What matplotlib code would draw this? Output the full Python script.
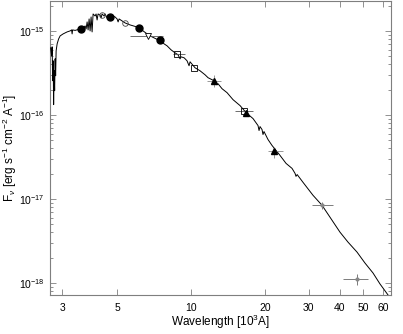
import matplotlib
matplotlib.use("Agg")
import matplotlib.pyplot as plt
import numpy as np
from matplotlib.ticker import FixedLocator, FixedFormatter, NullFormatter

plt.rcParams['font.family'] = ['Liberation Sans', 'DejaVu Sans']
plt.rcParams['mathtext.fontset'] = 'custom'
plt.rcParams['mathtext.rm'] = 'Liberation Sans'
plt.rcParams['mathtext.it'] = 'Liberation Sans:italic'
plt.rcParams['mathtext.sf'] = 'Liberation Sans'

SCALE = 1e-15  # flux unit of the lists below

# model spectrum (wavelength in 10^3 A, flux in 1e-15 erg/s/cm2/A)
spec_wl = [2.687, 2.712, 2.725, 2.738, 2.750, 2.763, 2.776, 2.789, 2.802, 2.815,
           2.828, 2.855, 2.895, 2.936, 3.019, 3.134, 3.223, 3.268, 3.284, 3.299,
           3.377, 3.539, 3.640, 3.708, 3.743, 3.778, 3.813, 3.849, 3.885, 3.921,
           3.958, 3.995, 4.070, 4.109, 4.147, 4.186, 4.265, 4.305, 4.345, 4.427,
           4.469, 4.553, 4.596, 4.682, 4.771, 4.816, 4.906, 5.000, 5.047, 5.094,
           5.240, 5.388, 5.646, 5.916, 6.141, 6.375, 6.617, 6.934, 7.265, 7.471,
           7.756, 7.976, 8.279, 8.594, 8.838, 9.005, 9.089, 9.355, 9.613, 9.795,
           9.886, 10.36, 10.85, 11.37, 11.70, 12.37, 12.72, 12.84, 13.33, 13.97,
           14.77, 15.78, 16.68, 17.81, 18.66, 18.84, 19.01, 19.37, 19.55, 19.73,
           20.48, 21.27, 22.08, 22.92, 24.25, 25.64, 26.37, 26.61, 26.90, 28.41,
           31.19, 33.93, 36.56, 40.13, 43.25, 47.05, 50.69, 54.64, 58.33, 62.85, 64.64]
spec_fl = [0.6285, 0.5052, 0.6460, 0.2554, 0.4407, 0.1326, 0.3355, 0.1943, 0.4656, 0.2926,
           0.5790, 0.7013, 0.8036, 0.8723, 0.9213, 0.9731, 1.000, 1.028, 0.9213, 1.028,
           1.014, 1.056, 1.085, 1.146, 1.056, 1.279, 1.028, 1.388, 1.000, 1.466,
           0.9731, 1.591, 1.506, 1.591, 1.350, 1.591, 1.548, 1.426, 1.591, 1.506,
           1.591, 1.426, 1.548, 1.506, 1.426, 1.506, 1.466, 1.388, 1.279, 1.388,
           1.314, 1.244, 1.178, 1.131, 1.085, 1.000, 0.9213, 0.8487, 0.7930, 0.7717,
           0.7013, 0.6642, 0.5953, 0.5483, 0.5193, 0.4650, 0.4915, 0.4784, 0.4407, 0.3846,
           0.4288, 0.3640, 0.3355, 0.3007, 0.2772, 0.2554, 0.2289, 0.2352, 0.2052, 0.1840,
           0.1520, 0.1290, 0.1066, 0.09044, 0.07470, 0.06519, 0.07269, 0.06700, 0.05844, 0.06343,
           0.05099, 0.04329, 0.03776, 0.03294, 0.02647, 0.02310, 0.02015, 0.01857, 0.01950, 0.01576,
           0.01105, 0.008411, 0.006061, 0.004024, 0.003063, 0.002331, 0.001726, 0.001314, 0.0009729, 0.0007205, 0.0006458]

# photometry
fcirc_wl = [3.56, 4.68, 6.14, 7.47]
fcirc_fl = [1.065, 1.466, 1.086, 0.782]

ocirc_wl = [4.35, 5.39]
ocirc_fl = [1.55, 1.245]

otri_wl = [6.68]
otri_fl = [0.872]
otri_lo = [5.64]
otri_hi = [7.68]

osq_wl = [8.76, 10.26, 16.37]
osq_fl = [0.534, 0.364, 0.1125]
osq_lo = [8.44, 10.26, 15.05]
osq_hi = [9.44, 10.26, 17.80]

ftri_wl = [12.37, 16.68, 21.67]
ftri_fl = [0.255, 0.104, 0.0367]
ftri_lo = [11.59, 16.68, 20.49]
ftri_hi = [13.21, 16.68, 23.56]
ftri_flo = [0.215, 0.104, 0.031]
ftri_fhi = [0.300, 0.104, 0.042]

gx_wl = [33.9, 47.0]
gx_fl = [0.00841, 0.00111]
gx_lo = [30.9, 41.3]
gx_hi = [37.6, 52.1]
gx_flo = [0.00754, 0.000947]
gx_fhi = [0.00913, 0.001279]

xticks = [3, 5, 10, 20, 30, 40, 50, 60]
xticklabels = ['3', '5', '10', '20', '30', '40', '50', '60']
yticks = [1e-18, 1e-17, 1e-16, 1e-15]
yticklabels = ['$10^{-18}$', '$10^{-17}$', '$10^{-16}$', '$10^{-15}$']
ylim = (7.2e-19, 2.27e-15)

fig = plt.figure(figsize=(4.03, 3.34), dpi=100)
ax = fig.add_axes([0.124, 0.117, 0.846, 0.880])
ax.set_xscale('log')
ax.set_yscale('log')

s = SCALE
ax.plot(spec_wl, np.array(spec_fl) * s, color='black', lw=0.7, zorder=3)

def xerr(w, lo, hi):
    w = np.array(w); return [w - np.array(lo), np.array(hi) - w]

def yerr(f, lo, hi):
    f = np.array(f) * s; return [f - np.array(lo) * s, np.array(hi) * s - f]

gray = '#555555'
ax.errorbar(otri_wl, np.array(otri_fl) * s, xerr=xerr(otri_wl, otri_lo, otri_hi),
            fmt='v', ms=4.5, mfc='white', mec='black', mew=0.6, ecolor=gray, elinewidth=0.6, capsize=0, zorder=4)
ax.errorbar(osq_wl, np.array(osq_fl) * s, xerr=xerr(osq_wl, osq_lo, osq_hi),
            fmt='s', ms=4.2, mfc='none', mec='black', mew=0.6, ecolor=gray, elinewidth=0.6, capsize=0, zorder=4)
ax.errorbar(ftri_wl, np.array(ftri_fl) * s, xerr=xerr(ftri_wl, ftri_lo, ftri_hi),
            yerr=yerr(ftri_fl, ftri_flo, ftri_fhi),
            fmt='^', ms=5, mfc='black', mec='black', ecolor='#888888', elinewidth=0.6, capsize=0, zorder=4)
ax.errorbar(gx_wl, np.array(gx_fl) * s, xerr=xerr(gx_wl, gx_lo, gx_hi),
            yerr=yerr(gx_fl, gx_flo, gx_fhi),
            fmt='o', ms=2, mfc='#888888', mec='#888888', ecolor='#666666', elinewidth=0.6, capsize=0, zorder=4)
ax.plot(fcirc_wl, np.array(fcirc_fl) * s, 'o', ms=5, mfc='black', mec='black', zorder=5)
ax.plot(ocirc_wl, np.array(ocirc_fl) * s, 'o', ms=4, mfc='none', mec='#444444', mew=0.6, zorder=5)

ax.set_xlim(2.67, 64.6)
ax.set_ylim(*ylim)

ax.xaxis.set_major_locator(FixedLocator(xticks))
ax.xaxis.set_major_formatter(FixedFormatter(xticklabels))
ax.xaxis.set_minor_locator(FixedLocator([]))
ax.yaxis.set_major_locator(FixedLocator(yticks))
ax.yaxis.set_major_formatter(FixedFormatter(yticklabels))
yminor = [m * d for d in [1e-19, 1e-18, 1e-17, 1e-16, 1e-15] for m in range(2, 10)
          if ylim[0] <= m * d <= ylim[1]]
ax.yaxis.set_minor_locator(FixedLocator(yminor))
ax.yaxis.set_minor_formatter(NullFormatter())

for sp in ax.spines.values():
    sp.set_color('#7f7f7f')
    sp.set_linewidth(0.8)
ax.tick_params(which='both', direction='in', top=True, right=True, colors='#7f7f7f',
               labelcolor='black', labelsize=7.5, width=0.6)
ax.tick_params(which='major', length=4)
ax.tick_params(which='minor', length=2)
ax.tick_params(axis='x', pad=6)
ax.tick_params(axis='y', pad=4)

ax.set_xlabel('Wavelength [10$^3$A]', fontsize=8.5, labelpad=0)
ax.set_ylabel(r'F$_\nu$ [erg s$^{-1}$ cm$^{-2}$ A$^{-1}$]', fontsize=8.5)
ax.yaxis.set_label_coords(-0.09, 0.5)

fig.savefig('out.png', dpi=100)
